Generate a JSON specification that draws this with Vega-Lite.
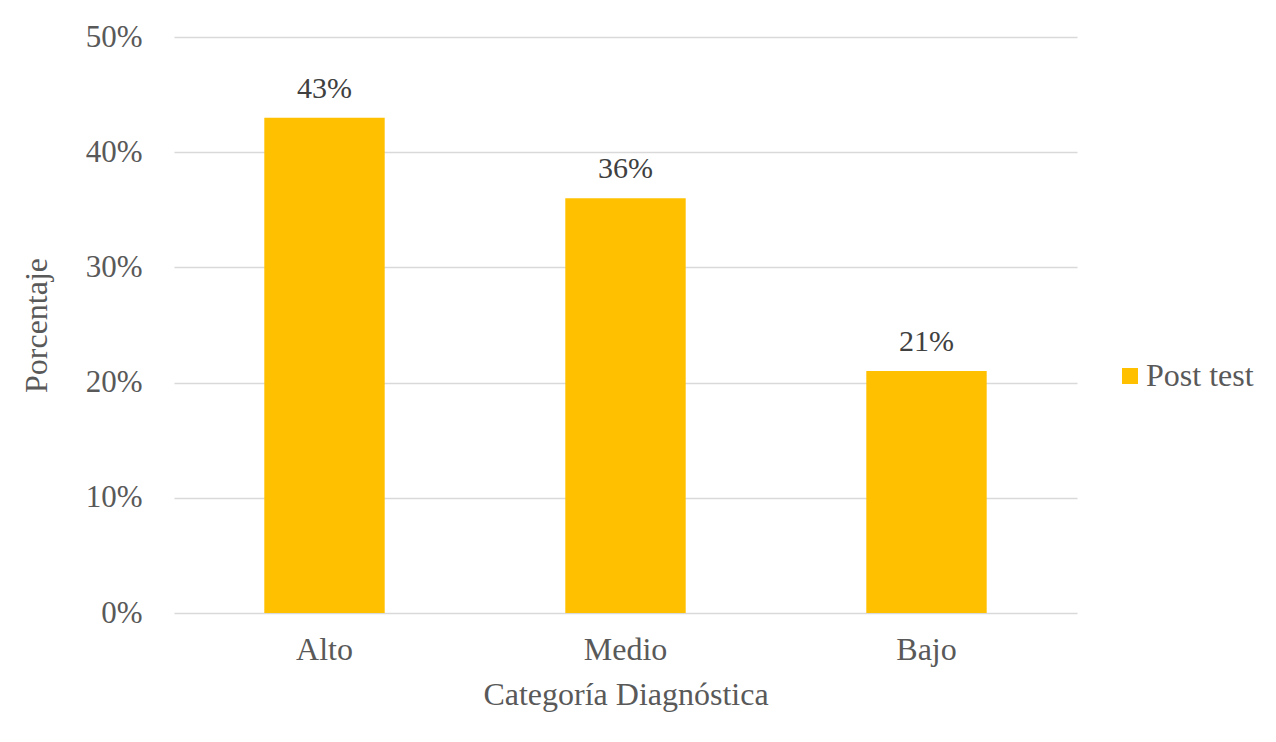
{
  "$schema": "https://vega.github.io/schema/vega-lite/v6.json",
  "autosize": "none",
  "width": 903,
  "height": 576,
  "padding": {"left": 174, "top": 37, "right": 199, "bottom": 129},
  "background": "white",
  "config": {
    "view": {"stroke": null},
    "font": "Liberation Serif"
  },
  "data": {
    "values": [
      {"categoria": "Alto", "serie": "Post test", "valor": 0.43},
      {"categoria": "Medio", "serie": "Post test", "valor": 0.36},
      {"categoria": "Bajo", "serie": "Post test", "valor": 0.21}
    ]
  },
  "encoding": {
    "x": {
      "field": "categoria",
      "type": "nominal",
      "sort": ["Alto", "Medio", "Bajo"],
      "scale": {"paddingInner": 0.6, "paddingOuter": 0.3},
      "axis": {
        "title": "Categoría Diagnóstica",
        "titleFont": "Liberation Serif",
        "titleFontSize": 32,
        "titleFontWeight": "normal",
        "titleColor": "#595959",
        "titlePadding": 14,
        "labelFont": "Liberation Serif",
        "labelFontSize": 32,
        "labelColor": "#595959",
        "labelAngle": 0,
        "labelPadding": 21,
        "ticks": false,
        "domain": false
      }
    },
    "y": {
      "field": "valor",
      "type": "quantitative",
      "scale": {"domain": [0, 0.5]},
      "axis": {
        "title": "Porcentaje",
        "titleFont": "Liberation Serif",
        "titleFontSize": 32,
        "titleFontWeight": "normal",
        "titleColor": "#595959",
        "titlePadding": 32,
        "format": ".0%",
        "values": [0, 0.1, 0.2, 0.3, 0.4, 0.5],
        "labelFont": "Liberation Serif",
        "labelFontSize": 31,
        "labelColor": "#595959",
        "labelPadding": 32,
        "ticks": false,
        "domain": false,
        "gridColor": "#d9d9d9",
        "gridWidth": 1.5
      }
    }
  },
  "layer": [
    {
      "mark": {"type": "bar", "color": "#FFC000"},
      "encoding": {
        "color": {
          "field": "serie",
          "type": "nominal",
          "scale": {"range": ["#FFC000"]},
          "legend": {
            "title": null,
            "orient": "none",
            "legendX": 940,
            "legendY": 323,
            "symbolType": "square",
            "symbolSize": 256,
            "symbolStrokeWidth": 0,
            "symbolOpacity": 1,
            "labelFont": "Liberation Serif",
            "labelFontSize": 32,
            "labelColor": "#595959",
            "labelOffset": 0
          }
        }
      }
    },
    {
      "mark": {"type": "text", "dy": -29, "fontSize": 30, "font": "Liberation Serif", "color": "#404040"},
      "encoding": {
        "text": {"field": "valor", "type": "quantitative", "format": ".0%"}
      }
    }
  ]
}
